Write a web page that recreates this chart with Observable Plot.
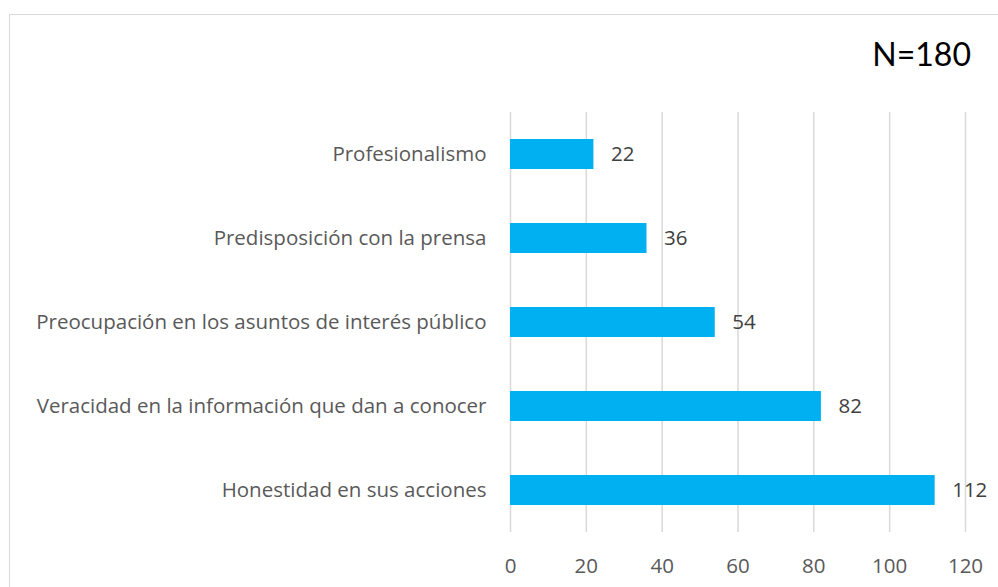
<!DOCTYPE html>
<html><head><meta charset="utf-8">
<script src="https://cdn.jsdelivr.net/npm/d3@7"></script>
<script src="https://cdn.jsdelivr.net/npm/@observablehq/plot@0.6"></script>
<style>
body{margin:0;background:#fff;}
#wrap{position:relative;width:998px;height:587px;overflow:hidden;background:#fff;}
#frame{position:absolute;left:9px;top:14px;width:1200px;height:800px;border:1px solid #d9d9d9;box-sizing:border-box;}
#chart{position:absolute;left:0;top:0;}
#n{position:absolute;right:27px;top:38px;font-family:Lato,sans-serif;font-size:32px;color:#000;line-height:1;}
</style>
</head><body>
<div id="wrap"><div id="frame"></div><div id="chart"></div><div id="n">N=180</div></div>
<script>
const categories = [
  "Profesionalismo",
  "Predisposición con la prensa",
  "Preocupación en los asuntos de interés público",
  "Veracidad en la información que dan a conocer",
  "Honestidad en sus acciones"
];
const values = [22, 36, 54, 82, 112];
const xTicks = [0, 20, 40, 60, 80, 100, 120];

const data = categories.map((c, i) => ({cat: c, value: values[i]}));

const chart = Plot.plot({
  width: 998,
  height: 587,
  marginLeft: 510,
  marginRight: 33,
  marginTop: 112,
  marginBottom: 55,
  style: {fontFamily: "'Open Sans', sans-serif", fontSize: "20.5px", color: "#595959", background: "transparent"},
  x: {domain: [0, 120], label: null},
  y: {domain: categories, label: null, paddingInner: 0.64, paddingOuter: 0.32},
  marks: [
    Plot.gridX(xTicks, {stroke: "#d9d9d9", strokeOpacity: 1, strokeWidth: 1.5}),
    Plot.barX(data, {x: "value", y: "cat", fill: "#00b0f0"}),
    Plot.text(data, {x: "value", y: "cat", text: d => String(d.value), dx: 17, textAnchor: "start", fill: "#404040", fontSize: 20.5}),
    Plot.axisX(xTicks, {tickSize: 0, tickPadding: 26, fontSize: 20.5, label: null}),
    Plot.axisY({tickSize: 0, tickPadding: 24, fontSize: 20.5, label: null})
  ]
});
document.getElementById("chart").appendChild(chart);
</script>
</body></html>
